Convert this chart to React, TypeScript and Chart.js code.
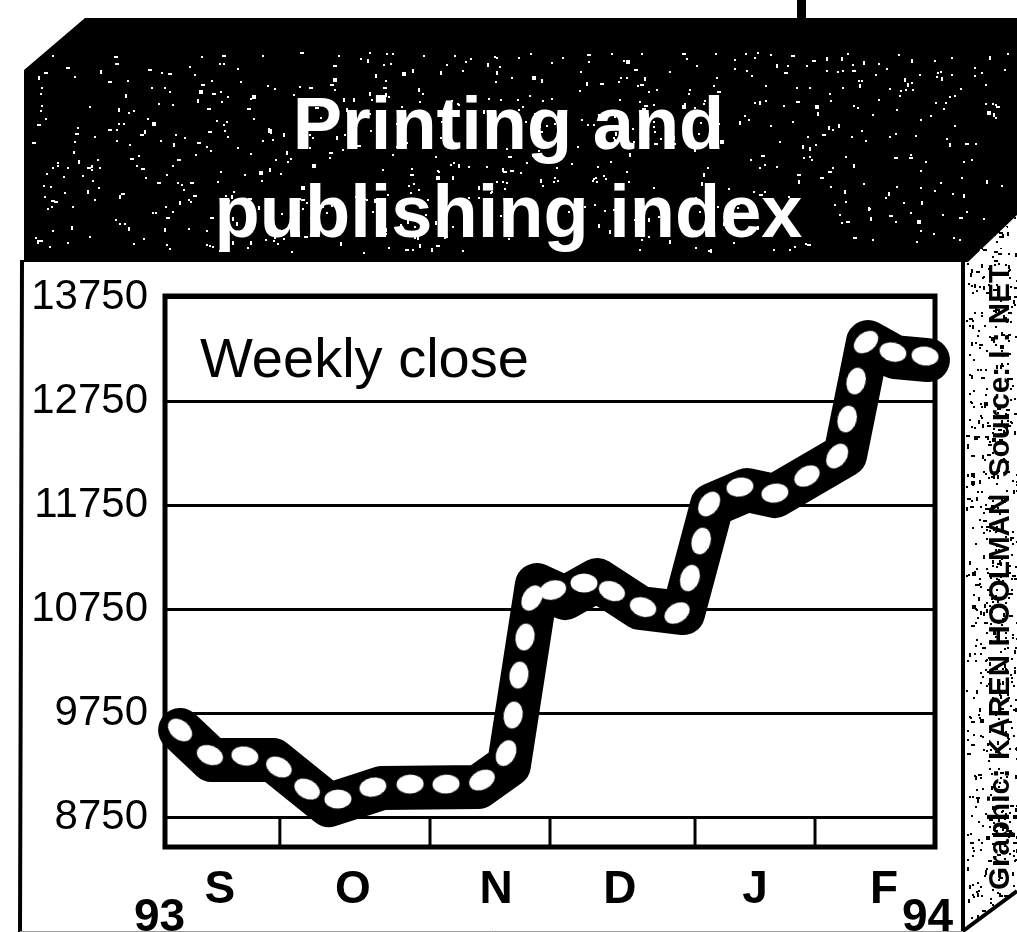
import React, { useEffect, useRef } from "react";
import { Chart, registerables } from "chart.js";

Chart.register(...registerables);

const titleLines = ["Printing and", "publishing index"];
const note = "Weekly close";
const credit = "Graphic: KAREN HOOLMAN  Source: I : NET";
const yTicks = [8750, 9750, 10750, 11750, 12750, 13750];
const monthLabels = ["S", "O", "N", "D", "J", "F"];
const monthCentres = [1.71, 5.86, 10.32, 14.18, 18.39, 22.41];
const monthDividers = [3.58, 8.26, 12, 16.52, 20.26];
const bandWeeks = [
  0.47, 1.46, 3.37, 5.11, 6.76, 9.76, 10.72, 11.59, 12.47, 13.47, 14.81, 16.15, 17.05, 18.14, 19.01, 21.2, 21.91, 22.75, 23.78,
];
const bandCloses = [
  9587, 9298, 9298, 8865, 9029, 9038, 9250, 10981, 10856, 11029, 10760, 10711, 11750, 11894, 11836, 12231, 13317, 13173, 13144,
];
const dotWeeks = [
  0.47, 1.4, 2.49, 3.55, 4.43, 5.39, 6.48, 7.64, 8.76, 9.88, 10.63, 10.85, 11.03, 11.22, 11.44, 12.09,
  13.06, 13.93, 14.9, 15.96, 16.36, 16.71, 16.96, 17.92, 19.01, 20.01, 20.95, 21.26, 21.54, 21.85, 22.69, 23.69,
];
const dotCloses = [
  9587, 9346, 9337, 9231, 9019, 8923, 9038, 9067, 9067, 9106, 9365, 9731, 10115, 10481, 10856, 10933,
  11000, 10923, 10769, 10712, 11048, 11404, 11760, 11923, 11865, 12029, 12221, 12577, 12942, 13317, 13221, 13183,
];

const SANS = '"Liberation Sans", Arial, sans-serif';

function speckle(ctx: CanvasRenderingContext2D, x0: number, y0: number, w: number, h: number, n: number, color: string, seed: number) {
  let s = seed;
  const next = () => {
    s = (s * 1664525 + 1013904223) >>> 0;
    return s / 4294967296;
  };
  ctx.fillStyle = color;
  for (let i = 0; i < n; i++) {
    const x = x0 + next() * w;
    const y = y0 + next() * h;
    const a = next() > 0.85 ? 4 : 2;
    ctx.fillRect(Math.round(x), Math.round(y), a, next() > 0.85 ? 4 : 2);
  }
}

const decor = {
  id: "decor",
  beforeDraw(chart: any) {
    const ctx: CanvasRenderingContext2D = chart.ctx;
    ctx.save();
    ctx.fillStyle = "#fff";
    ctx.fillRect(0, 0, chart.width, chart.height);

    // right panel speckle
    ctx.save();
    ctx.beginPath();
    ctx.moveTo(966, 262);
    ctx.lineTo(1017, 215);
    ctx.lineTo(1017, 892);
    ctx.lineTo(966, 930);
    ctx.closePath();
    ctx.clip();
    speckle(ctx, 966, 215, 51, 715, 620, "#000", 77);
    ctx.restore();

    // banner
    ctx.fillStyle = "#000";
    ctx.beginPath();
    ctx.moveTo(85, 18);
    ctx.lineTo(1017, 18);
    ctx.lineTo(1017, 215);
    ctx.lineTo(968, 262);
    ctx.lineTo(24, 262);
    ctx.lineTo(24, 70);
    ctx.closePath();
    ctx.fill();
    ctx.fillRect(797, 0, 9, 20);
    speckle(ctx, 32, 52, 975, 200, 720, "#fff", 12345);

    // outer frame
    ctx.strokeStyle = "#000";
    ctx.lineWidth = 4;
    ctx.beginPath();
    ctx.moveTo(22, 260);
    ctx.lineTo(20, 932);
    ctx.moveTo(963, 262);
    ctx.lineTo(963, 931);
    ctx.lineTo(1017, 891);
    ctx.stroke();
    ctx.strokeStyle = "#999";
    ctx.lineWidth = 1;
    ctx.beginPath();
    ctx.moveTo(20, 931.5);
    ctx.lineTo(963, 931.5);
    ctx.stroke();
    ctx.restore();
  },
  beforeDatasetsDraw(chart: any) {
    const ctx: CanvasRenderingContext2D = chart.ctx;
    const { left, right, top, bottom } = chart.chartArea;
    const x = chart.scales.x;
    const y = chart.scales.y;
    ctx.save();
    ctx.strokeStyle = "#000";
    ctx.lineWidth = 3;
    const bandTop = y.getPixelForValue(yTicks[0]);
    ctx.beginPath();
    monthDividers.forEach((w) => {
      const px = x.getPixelForValue(w);
      ctx.moveTo(px, bandTop);
      ctx.lineTo(px, bottom);
    });
    ctx.stroke();
    ctx.lineWidth = 5;
    ctx.strokeRect(left, top, right - left, bottom - top);
    ctx.restore();
  },
  afterDraw(chart: any) {
    const ctx: CanvasRenderingContext2D = chart.ctx;
    ctx.save();
    ctx.fillStyle = "#000";
    ctx.textBaseline = "alphabetic";
    ctx.textAlign = "left";
    ctx.font = `56px ${SANS}`;
    ctx.fillText(note, 200, 377);
    ctx.font = `bold 46px ${SANS}`;
    ctx.fillText("93", 134, 931);
    ctx.fillText("94", 902, 931);
    ctx.translate(1009, 890);
    ctx.rotate(-Math.PI / 2);
    ctx.font = `bold 30px ${SANS}`;
    ctx.fillText(credit, 0, 0, 625);
    ctx.restore();
  },
};

function makeDot() {
  const c = document.createElement("canvas");
  c.width = 28;
  c.height = 20;
  const g = c.getContext("2d")!;
  g.fillStyle = "#fff";
  g.beginPath();
  g.ellipse(14, 10, 13.5, 9.5, 0, 0, Math.PI * 2);
  g.fill();
  return c;
}

export default function App() {
  const ref = useRef<HTMLCanvasElement>(null);
  useEffect(() => {
    const dots = dotWeeks.map((x, i) => ({ x, y: dotCloses[i] }));
    const band = bandWeeks.map((x, i) => ({ x, y: bandCloses[i] }));
    const dot = makeDot();
    const chart = new Chart(ref.current!, {
      type: "line",
      data: {
        datasets: [
          {
            label: "Weekly close (dots)",
            data: dots,
            showLine: false,
            pointStyle: dot as any,
            pointRadius: 10,
            clip: false,
            pointRotation: (c: any) => {
              const sx = c.chart.scales.x;
              const sy = c.chart.scales.y;
              const a = dots[Math.max(0, c.dataIndex - 1)];
              const b = dots[Math.min(dots.length - 1, c.dataIndex + 1)];
              const dx = sx.getPixelForValue(b.x) - sx.getPixelForValue(a.x);
              const dy = sy.getPixelForValue(b.y) - sy.getPixelForValue(a.y);
              return (Math.atan2(dy, dx) * 180) / Math.PI;
            },
          } as any,
          {
            label: "Weekly close",
            data: band,
            borderColor: "#000",
            borderWidth: 44,
            borderCapStyle: "round",
            borderJoinStyle: "round",
            pointRadius: 0,
            tension: 0,
            clip: false,
          } as any,
        ],
      },
      plugins: [decor],
      options: {
        animation: false,
        responsive: false,
        layout: { padding: 0 },
        font: { family: SANS },
        plugins: {
          legend: { display: false },
          tooltip: { enabled: false },
          title: {
            display: true,
            text: titleLines,
            color: "#fff",
            fullSize: true,
            font: { family: SANS, size: 74, weight: "bold", lineHeight: 88 / 74 },
            padding: { top: 85, bottom: 35 },
          },
        },
        scales: {
          x: {
            type: "linear",
            min: 0,
            max: 24,
            grid: { display: false },
            border: { display: false },
            afterBuildTicks: (s: any) => {
              s.ticks = monthCentres.map((value) => ({ value }));
            },
            afterFit: (s: any) => {
              s.height = 85;
            },
            ticks: {
              autoSkip: false,
              maxRotation: 0,
              color: "#000",
              padding: 8,
              font: { family: SANS, size: 46, weight: "bold" },
              callback: (_v: any, i: number) => monthLabels[i],
            },
          },
          y: {
            type: "linear",
            min: 8462,
            max: 13760,
            grid: { color: "#000", lineWidth: 3, drawTicks: false },
            border: { display: false },
            afterBuildTicks: (s: any) => {
              s.ticks = yTicks.map((value) => ({ value }));
            },
            afterFit: (s: any) => {
              s.width = 165;
            },
            ticks: {
              color: "#000",
              padding: 17,
              font: { family: SANS, size: 42 },
              callback: (v: any) => String(v),
            },
          },
          yRight: {
            type: "linear",
            axis: "y",
            position: "right",
            display: true,
            min: 0,
            max: 1,
            grid: { display: false },
            border: { display: false },
            ticks: { display: false },
            afterFit: (s: any) => {
              s.width = 82;
            },
          },
        },
      } as any,
    });
    return () => chart.destroy();
  }, []);
  return (
    <div style={{ position: "absolute", left: 0, top: 0, width: 1017, height: 932, overflow: "hidden" }}>
      <canvas ref={ref} width={1017} height={932} style={{ display: "block" }} />
    </div>
  );
}
